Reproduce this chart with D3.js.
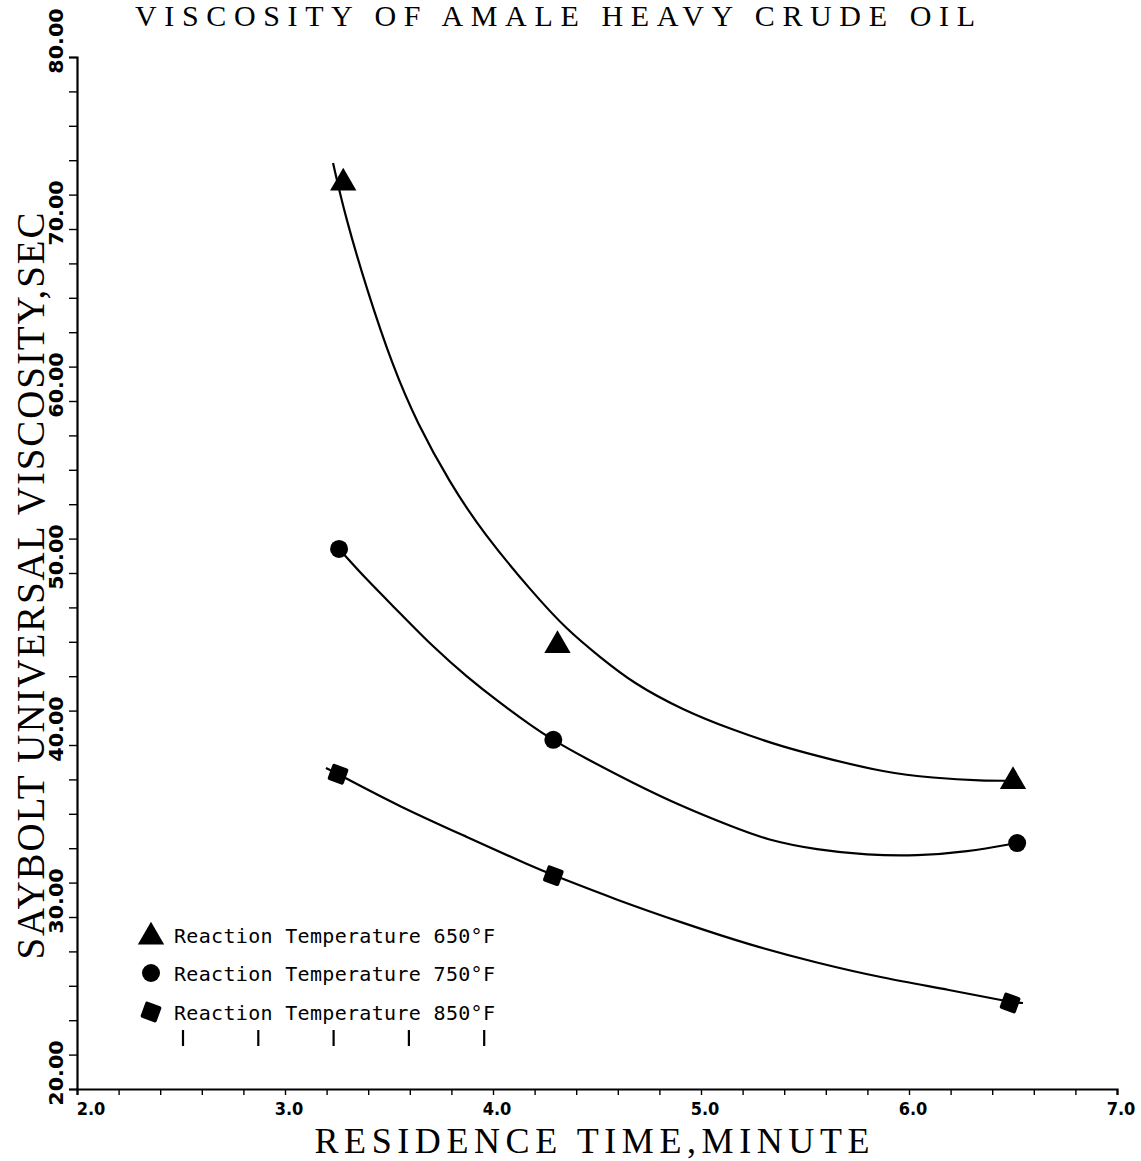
<!DOCTYPE html>
<html><head><meta charset="utf-8">
<script src="https://cdn.jsdelivr.net/npm/d3@7"></script>
<style>html,body{margin:0;padding:0;background:#fff}</style>
</head><body>
<svg id="c" width="1141" height="1161"></svg>
<script>
// ---- data ----
const seriesNames = ["Reaction Temperature 650°F","Reaction Temperature 750°F","Reaction Temperature 850°F"];
const seriesShapes = ["triangle","circle","square"];
// measured points (residence time, SUS viscosity)
const time650 = [3.28, 4.31, 6.50];
const visc650 = [72.8, 45.9, 38.0];
const time750 = [3.26, 4.29, 6.52];
const visc750 = [51.4, 40.3, 34.3];
const time850 = [3.255, 4.29, 6.486];
const visc850 = [38.3, 32.4, 25.0];
// hand-drawn fitted curves
const curve650x = [3.231,3.288,3.394,3.519,3.635,3.793,3.952,4.192,4.356,4.514,4.673,4.913,5.154,5.394,5.635,5.875,6.115,6.356,6.495,6.534];
const curve650y = [73.84,70.81,66.45,61.98,58.72,55.23,52.33,48.84,46.69,45.12,43.6,42.03,40.87,39.88,39.13,38.43,38.08,37.91,37.93,37.9];
const curve750x = [3.26,3.394,3.553,3.712,3.875,4.034,4.192,4.288,4.433,4.673,4.913,5.154,5.317,5.558,5.798,6.038,6.279,6.519];
const curve750y = [51.4,49.59,47.67,45.7,43.95,42.44,41.05,40.29,39.3,37.79,36.4,35.23,34.48,33.9,33.6,33.55,33.78,34.3];
const curve850x = [3.197,3.255,3.553,3.875,4.192,4.288,4.596,4.913,5.236,5.558,5.875,6.197,6.486,6.548];
const curve850y = [38.66,38.31,36.4,34.65,32.91,32.44,30.99,29.65,28.37,27.33,26.45,25.76,25.05,25.0];
const xTickLabels = ["2.0","3.0","4.0","5.0","6.0","7.0"];
const yTickLabels = ["20.00","30.00","40.00","50.00","60.00","70.00","80.00"];
const titleText = "VISCOSITY OF AMALE HEAVY CRUDE OIL";
const xTitle = "RESIDENCE TIME,MINUTE";
const yTitle = "SAYBOLT UNIVERSAL VISCOSITY,SEC";

// ---- drawing ----
const svg = d3.select("#c");
const x = d3.scaleLinear().domain([2,7]).range([77,1117]);
const y = d3.scaleLinear().domain([20,80]).range([1089,57]);
const ink = "#000";

// title
svg.append("text").attr("x",555).attr("y",26).attr("text-anchor","middle")
  .attr("font-family","'Liberation Serif','DejaVu Serif',serif").attr("font-size",30)
  .attr("textLength",840).attr("lengthAdjust","spacing").attr("fill",ink).text(titleText);

// x axis
const xAxis = d3.axisBottom(x).tickValues(d3.range(0,26).map(i=>2+i*0.2)).tickSize(6).tickFormat("");
const gx = svg.append("g").attr("transform","translate(0,1089)").call(xAxis);
gx.select(".domain").attr("stroke-width",2.2).attr("stroke",ink);
gx.selectAll(".tick line").attr("stroke-width",1.4).attr("stroke",ink);
svg.append("g").selectAll("text").data(xTickLabels).join("text")
  .attr("x",(d,i)=> i===0 ? x(+d)+14 : x(+d)+4)
  .attr("y",1115).attr("text-anchor","middle")
  .attr("font-family","'Liberation Sans Narrow','DejaVu Sans Condensed','Liberation Sans',sans-serif")
  .attr("font-weight","bold").attr("font-size",18).attr("fill",ink).text(d=>d);

// y axis
const yAxis = d3.axisLeft(y).tickValues(d3.range(0,31).map(i=>20+i*2)).tickSize(8).tickFormat("");
const gy = svg.append("g").attr("transform","translate(77,0)").call(yAxis);
gy.select(".domain").attr("stroke-width",2.2).attr("stroke",ink);
gy.selectAll(".tick line").attr("stroke-width",1.4).attr("stroke",ink);
svg.append("g").selectAll("text").data(yTickLabels).join("text")
  .attr("transform",d=>`translate(63,${y(+d)-16}) rotate(-90) scale(1.15,1)`)
  .attr("text-anchor","middle")
  .attr("font-family","'DejaVu Sans Condensed','Liberation Sans Narrow','Liberation Sans',sans-serif")
  .attr("font-weight","bold").attr("font-size",20).attr("fill",ink).text(d=>d);

// axis titles
svg.append("text").attr("x",592).attr("y",1153).attr("text-anchor","middle")
  .attr("font-family","'Liberation Serif','DejaVu Serif',serif").attr("font-size",36)
  .attr("textLength",555).attr("lengthAdjust","spacing").attr("fill",ink).text(xTitle);
svg.append("text").attr("transform","translate(44,586) rotate(-90)").attr("text-anchor","middle")
  .attr("font-family","'Liberation Serif','DejaVu Serif',serif").attr("font-size",39)
  .attr("textLength",747).attr("lengthAdjust","spacing").attr("fill",ink).text(yTitle);

// curves
const line = d3.line().x(d=>x(d[0])).y(d=>y(d[1])).curve(d3.curveBasis);
[[curve650x,curve650y],[curve750x,curve750y],[curve850x,curve850y]].forEach(([cx,cy])=>{
  svg.append("path").datum(cx.map((v,i)=>[v,cy[i]])).attr("d",line)
    .attr("fill","none").attr("stroke",ink).attr("stroke-width",2.2);
});

// markers
function marker(g, shape, px, py){
  if(shape==="triangle"){
    g.append("path").attr("d",d3.symbol(d3.symbolTriangle,300)()).attr("transform",`translate(${px},${py+2})`).attr("fill",ink);
  } else if(shape==="circle"){
    g.append("circle").attr("cx",px).attr("cy",py).attr("r",9).attr("fill",ink);
  } else {
    g.append("rect").attr("x",-8.5).attr("y",-8.5).attr("width",17).attr("height",17).attr("rx",2)
      .attr("transform",`translate(${px},${py}) rotate(20)`).attr("fill",ink);
  }
}
const pts = svg.append("g");
[[time650,visc650],[time750,visc750],[time850,visc850]].forEach(([tx,vy],s)=>{
  tx.forEach((t,i)=>marker(pts, seriesShapes[s], x(t), y(vy[i])));
});

// legend
const lg = svg.append("g");
const legendY = [935, 973, 1012];
seriesNames.forEach((n,i)=>{
  marker(lg, seriesShapes[i], 151, legendY[i]);
  lg.append("text").attr("x",174).attr("y",legendY[i]+8)
    .attr("font-family","'DejaVu Sans Mono','Liberation Mono',monospace").attr("font-size",20)
    .attr("textLength",321).attr("lengthAdjust","spacing").attr("fill",ink).text(n);
});
// small vertical marks under legend
const legendMarks = [0,1,2,3,4];
lg.selectAll("line.m").data(legendMarks).join("line")
  .attr("x1",d=>183+d*75.3).attr("x2",d=>183+d*75.3).attr("y1",1030).attr("y2",1046)
  .attr("stroke",ink).attr("stroke-width",2.2);
</script>
</body></html>
